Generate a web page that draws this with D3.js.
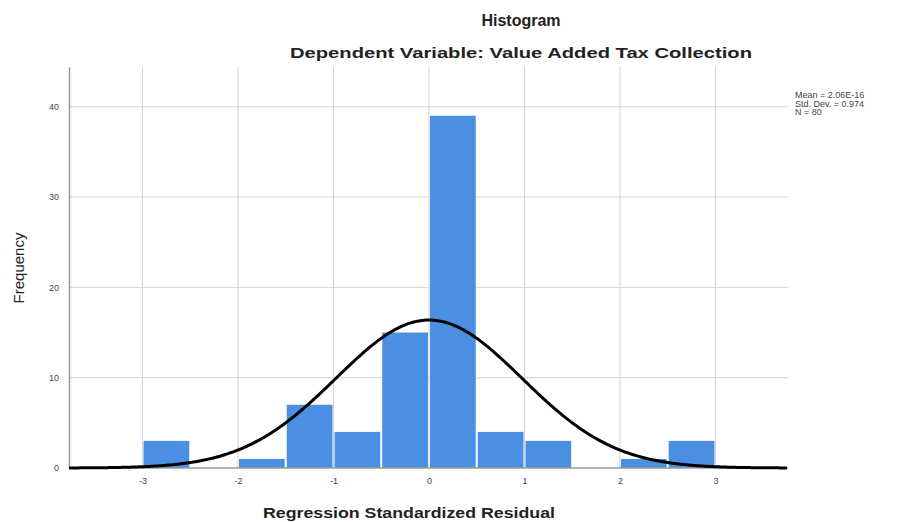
<!DOCTYPE html>
<html>
<head>
<meta charset="utf-8">
<script src="https://cdn.jsdelivr.net/npm/d3@7"></script>
<style>
  html, body { margin: 0; padding: 0; background: #fff; }
  svg { display: block; font-family: "Liberation Sans", Arial, sans-serif; }
</style>
</head>
<body>
<svg id="chart" width="903" height="522"></svg>
<script>
// Histogram bins of regression standardized residuals (bin width 0.5)
const binStarts = [-3.0, -2.0, -1.5, -1.0, -0.5, 0.0, 0.5, 1.0, 2.0, 2.5];
const binCounts = [3, 1, 7, 4, 15, 39, 4, 3, 1, 3];
const binWidth = 0.5;

// Normal curve parameters
const mean = 2.06e-16;
const stdDev = 0.974;
const n = 80;

const xTicks = [-3, -2, -1, 0, 1, 2, 3];
const yTicks = [0, 10, 20, 30, 40];
const statLines = ["Mean = 2.06E-16", "Std. Dev. = 0.974", "N = 80"];

const svg = d3.select("#chart");

const x = d3.scaleLinear().domain([-3.77, 3.76]).range([69, 788]);
const y = d3.scaleLinear().domain([0, 44.4]).range([468, 67]);

// grid
const grid = svg.append("g");
grid.selectAll("line.h").data(yTicks.filter(d => d > 0)).join("line")
  .attr("x1", x.range()[0]).attr("x2", x.range()[1])
  .attr("y1", d => y(d)).attr("y2", d => y(d))
  .attr("stroke", "#d4d4d4").attr("stroke-width", 1);
grid.selectAll("line.v").data(xTicks).join("line")
  .attr("x1", d => x(d)).attr("x2", d => x(d))
  .attr("y1", y.range()[1]).attr("y2", y(0))
  .attr("stroke", "#d4d4d4").attr("stroke-width", 1);

// bars
svg.append("g").selectAll("rect").data(binStarts.map((s, i) => ({s, c: binCounts[i]}))).join("rect")
  .attr("x", d => x(d.s) + 1)
  .attr("width", d => x(d.s + binWidth) - x(d.s) - 2)
  .attr("y", d => y(d.c))
  .attr("height", d => y(0) - y(d.c))
  .attr("fill", "#4a8fe1");

// axes
const fmt = d => String(d);
const yAxis = svg.append("g").attr("transform", `translate(${x.range()[0]},0)`)
  .call(d3.axisLeft(y).tickValues(yTicks).tickFormat(fmt).tickSize(0).tickPadding(10));
const xAxis = svg.append("g").attr("transform", `translate(0,${y(0)})`)
  .call(d3.axisBottom(x).tickValues(xTicks).tickFormat(fmt).tickSize(0).tickPadding(10));
[xAxis, yAxis].forEach(g => {
  g.select(".domain").attr("stroke", "#9a9a9a").attr("stroke-width", 1.5);
  g.selectAll("text").attr("font-size", 9).attr("fill", "#444")
    .attr("font-family", "Liberation Sans, Arial, sans-serif");
});
xAxis.select(".domain").attr("d", `M${x.range()[0]},0H${x.range()[1]}`);

// normal curve scaled to counts
const pdf = v => Math.exp(-0.5 * ((v - mean) / stdDev) ** 2) / (stdDev * Math.sqrt(2 * Math.PI));
const xs = d3.range(x.domain()[0], x.domain()[1] + 0.001, 0.02);
svg.append("path")
  .datum(xs)
  .attr("fill", "none")
  .attr("stroke", "#000")
  .attr("stroke-width", 3)
  .attr("d", d3.line().x(d => x(d)).y(d => y(n * binWidth * pdf(d))).curve(d3.curveBasis));

// titles
svg.append("text").attr("x", 521).attr("y", 26).attr("text-anchor", "middle")
  .attr("font-size", 16).attr("font-weight", "bold").attr("fill", "#222").text("Histogram");
svg.append("text").attr("x", 521).attr("y", 58).attr("text-anchor", "middle")
  .attr("font-size", 15).attr("font-weight", "bold").attr("fill", "#222")
  .attr("textLength", 462).attr("lengthAdjust", "spacingAndGlyphs")
  .text("Dependent Variable: Value Added Tax Collection");

svg.append("text").attr("x", 409).attr("y", 518).attr("text-anchor", "middle")
  .attr("font-size", 15).attr("font-weight", "bold").attr("fill", "#222")
  .attr("textLength", 292).attr("lengthAdjust", "spacingAndGlyphs")
  .text("Regression Standardized Residual");

svg.append("text").attr("transform", "translate(24,268) rotate(-90)").attr("text-anchor", "middle")
  .attr("font-size", 15).attr("fill", "#222").text("Frequency");

// summary stats
svg.append("g").selectAll("text").data(statLines).join("text")
  .attr("x", 795).attr("y", (d, i) => 98 + i * 8.5)
  .attr("font-size", 9).attr("fill", "#444").text(d => d);
</script>
</body>
</html>
